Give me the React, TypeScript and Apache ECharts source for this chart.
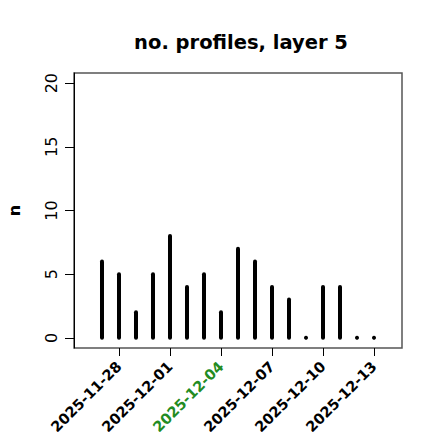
import React, { useEffect, useRef } from "react";
import * as echarts from "echarts";

const dates = [
  "2025-11-27", "2025-11-28", "2025-11-29", "2025-11-30", "2025-12-01",
  "2025-12-02", "2025-12-03", "2025-12-04", "2025-12-05", "2025-12-06",
  "2025-12-07", "2025-12-08", "2025-12-09", "2025-12-10", "2025-12-11",
  "2025-12-12", "2025-12-13",
];
const counts = [6, 5, 2, 5, 8, 4, 5, 2, 7, 6, 4, 3, 0, 4, 4, 0, 0];
const tickDates = ["2025-11-28", "2025-12-01", "2025-12-04", "2025-12-07", "2025-12-10", "2025-12-13"];
const highlightDate = "2025-12-04";
const yTicks = [0, 5, 10, 15, 20];

const DAY = 86400000;
const t0 = Date.parse(dates[0] + "T00:00:00Z");
const dayIndex = (d: string) => Math.round((Date.parse(d + "T00:00:00Z") - t0) / DAY);

export default function App() {
  const ref = useRef<HTMLDivElement>(null);
  useEffect(() => {
    if (!ref.current) return;
    const chart = echarts.init(ref.current, undefined, { renderer: "svg" });
    const font = "DejaVu Sans";
    const data = dates.map((d, i) => [dayIndex(d), counts[i]]);
    const tickIdx = tickDates.map(dayIndex);
    chart.setOption({
      animation: false,
      textStyle: { fontFamily: font },
      title: {
        text: "no. profiles, layer 5",
        left: 236,
        top: 27,
        textAlign: "center",
        textStyle: { fontFamily: font, fontWeight: "bold", fontSize: 19.5, color: "#000" },
      },
      grid: {
        left: 74, right: 38, top: 73, bottom: 92,
        outerBoundsMode: "none",
        containLabel: false,
        show: true, borderColor: "#555", borderWidth: 1.5, backgroundColor: "transparent",
      },
      xAxis: {
        type: "value",
        min: -1.647,
        max: 17.647,
        splitLine: { show: false },
        axisLine: { show: false, onZero: false },
        axisTick: { show: true, length: 8, lineStyle: { color: "#000" }, customValues: tickIdx },
        axisLabel: {
          rotate: 45,
          margin: 16,
          customValues: tickIdx,
          fontFamily: font,
          fontWeight: "bold",
          fontSize: 14.5,
          color: "#000",
          formatter: (v: number) => {
            const s = new Date(t0 + Math.round(v) * DAY).toISOString().slice(0, 10);
            return s === highlightDate ? "{g|" + s + "}" : s;
          },
          rich: { g: { color: "#228B22", fontWeight: "bold", fontSize: 14.5, fontFamily: font } },
        },
      },
      yAxis: {
        type: "value",
        min: -0.8,
        max: 20.8,
        name: "n",
        nameLocation: "middle",
        nameRotate: 90,
        nameGap: 52,
        nameTextStyle: { fontFamily: font, fontWeight: "bold", fontSize: 16, color: "#000" },
        splitLine: { show: false },
        axisLine: { show: true, onZero: false, lineStyle: { color: "#000", width: 1 } },
        axisTick: { show: true, length: 9, lineStyle: { color: "#000" }, customValues: yTicks },
        axisLabel: {
          rotate: 90,
          margin: 15,
          customValues: yTicks,
          fontFamily: font,
          fontSize: 16,
          color: "#000",
        },
      },
      series: [
        {
          type: "custom",
          data,
          renderItem: (params: any, api: any) => {
            const x = api.value(0);
            const y = api.value(1);
            const top = api.coord([x, y]);
            const base = api.coord([x, 0]);
            if (y === 0) {
              return { type: "circle", shape: { cx: base[0], cy: base[1], r: 2 }, style: { fill: "#000" } };
            }
            return {
              type: "line",
              shape: { x1: base[0], y1: base[1], x2: top[0], y2: top[1] },
              style: { stroke: "#000", lineWidth: 4, lineCap: "round" },
            };
          },
        },
      ],
    });
    return () => chart.dispose();
  }, []);
  return <div ref={ref} style={{ width: 440, height: 440, margin: -8 }} />;
}
